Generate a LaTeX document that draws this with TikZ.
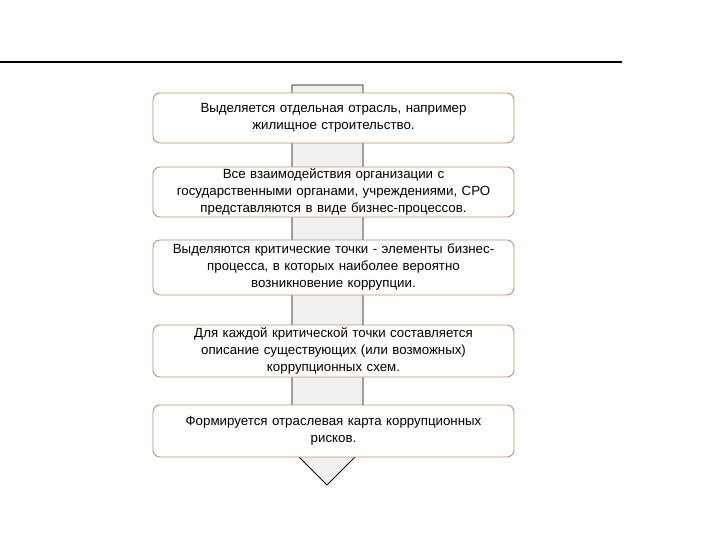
\documentclass[tikz,border=0pt]{standalone}
\usepackage{fontspec}
\setmainfont{Liberation Sans}
\definecolor{bord}{HTML}{C49070}
\definecolor{shaft}{HTML}{F0F0F0}
\begin{document}
\begin{tikzpicture}[x=1pt,y=-1pt,
  stepbox/.style={draw=bord,line width=0.9pt,fill=white,rounded corners=7pt,minimum width=361pt,text width=355pt,align=center,font=\fontsize{13.3}{17}\selectfont,inner sep=0pt}]
\useasboundingbox (0,0) rectangle (720,540);
\draw[line width=1.2pt] (0,62) -- (622,62);
\draw[fill=shaft,line width=0.8pt] (292,85) -- (363,85) -- (363,456) -- (356,456) -- (327,485) -- (298,456) -- (292,456) -- cycle;
\node[stepbox,minimum height=50pt] (b1) at (333.5,118) {Выделяется отдельная отрасль, например\\жилищное строительство.};
\node[stepbox,minimum height=50pt] (b2) at (333.5,192) {Все взаимодействия организации с\\государственными органами, учреждениями, СРО\\представляются в виде бизнес-процессов.};
\node[stepbox,minimum height=55pt] (b3) at (333.5,267.5) {Выделяются критические точки - элементы бизнес-\\процесса, в которых наиболее вероятно\\возникновение коррупции.};
\node[stepbox,minimum height=52pt] (b4) at (333.5,351) {Для каждой критической точки составляется\\описание существующих (или возможных)\\коррупционных схем.};
\node[stepbox,minimum height=52pt] (b5) at (333.5,431) {Формируется отраслевая карта коррупционных\\рисков.};
\end{tikzpicture}
\end{document}
